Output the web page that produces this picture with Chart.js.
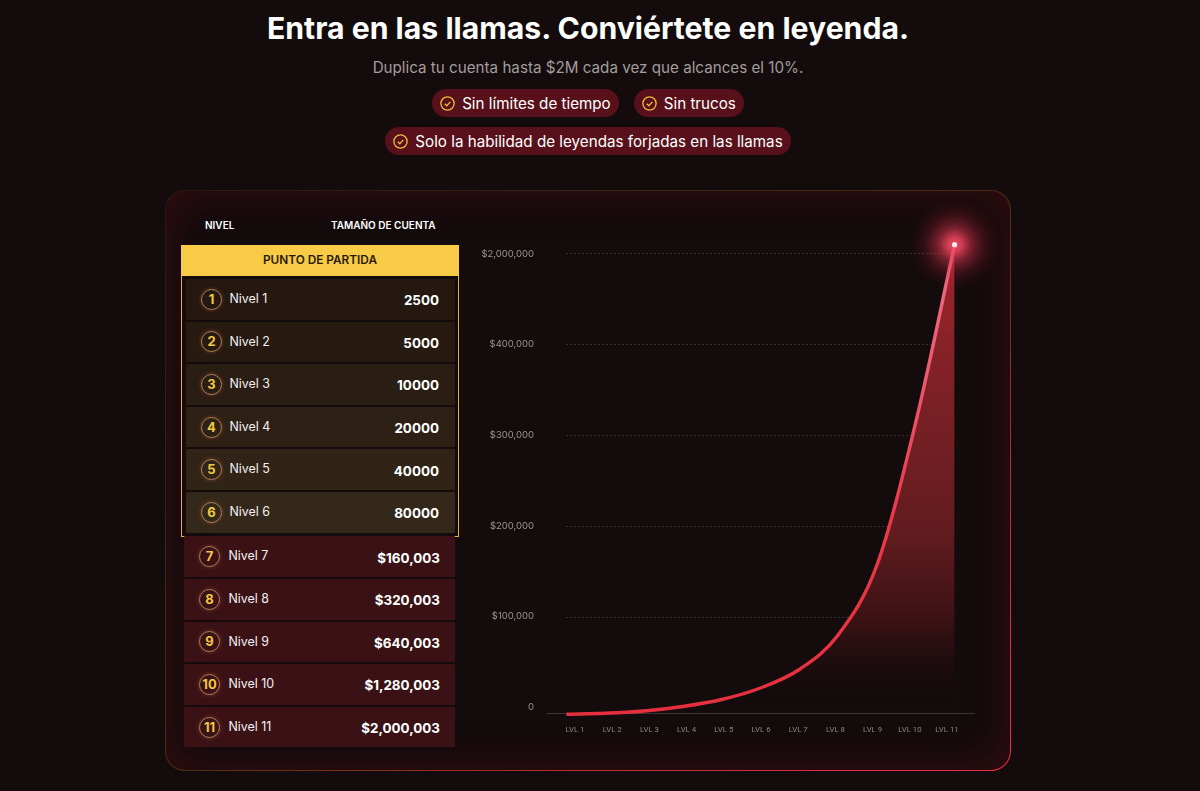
<!DOCTYPE html>
<html lang="es">
<head>
<meta charset="utf-8">
<title>Entra en las llamas</title>
<script src="https://cdn.jsdelivr.net/npm/chart.js@4"></script>
<style>
    html, body { margin: 0; height: 100%; background: #130b0c; overflow: hidden; }
    body { font-family: Inter, "Noto Sans", sans-serif; color: #fff; position: relative; width: 1200px; height: 791px; }
    h1, .sub, .pills { left: 0; width: 1176px; }
    h1 { position: absolute; top: 9px; margin: 0; text-align: center; font-size: 30.2px; line-height: 38px; font-weight: 700; }
    .sub { position: absolute; top: 58px; text-align: center; font-size: 15.2px; line-height: 20px; color: #a39d9d; }
    .pills { position: absolute; display: flex; justify-content: center; gap: 15px; }
    .pill { height: 28px; border-radius: 14px; background: #58101a; display: flex; align-items: center; padding: 0 8px; font-size: 15.2px; white-space: nowrap; }
    .pill svg { margin-right: 7px; }
    .panel { position: absolute; left: 165px; top: 190px; width: 844px; height: 579px; border: 1px solid transparent; border-radius: 20px;
        background: linear-gradient(#130b0c, #130b0c) padding-box, linear-gradient(to bottom right, #2a1810 0%, #4a3010 50%, #c02a30 75%, #f03040 100%) border-box; }
    .glow { position: absolute; inset: 0; border-radius: 19px; box-shadow: inset 0 0 45px rgba(120, 15, 28, .33); }
    .head { position: absolute; top: 218px; font-size: 10px; line-height: 14px; font-weight: 600; }
    .box { position: absolute; left: 181px; top: 245px; width: 276px; height: 290px; border: 1px solid #e0b040; }
    .band { position: absolute; left: 181px; top: 245px; width: 278px; height: 31px; background: #f7cb45; color: #2a1a05; text-align: center; font-size: 11.8px; font-weight: 600; line-height: 30px; }
    .row { position: absolute; height: 40.6px; border-radius: 1px; }
    .num { position: absolute; top: 50%; width: 19px; height: 19px; margin-top: -10.5px; border-radius: 50%; border: 1px solid #a8845c; box-shadow: 0 0 4px rgba(220, 90, 50, .45); color: #f2c840; font-weight: 700; font-size: 13px; line-height: 19px; text-align: center; }
    .name { position: absolute; top: 50%; margin-top: -9.4px; font-size: 12.4px; line-height: 18px; font-weight: 400; color: #f4f0f0; }
    .val { position: absolute; top: 50%; margin-top: -9px; font-size: 13.4px; line-height: 20px; font-weight: 700; }
    #wrap { position: absolute; left: 470px; top: 200px; width: 530px; height: 550px; }
</style>
</head>
<body>
<div class="panel"><div class="glow"></div></div>
<h1>Entra en las llamas. Conviértete en leyenda.</h1>
<div class="sub">Duplica tu cuenta hasta $2M cada vez que alcances el 10%.</div>
<div class="pills" id="pills1" style="top:89px"></div>
<div class="pills" id="pills2" style="top:127px"></div>
<div class="head" style="left:205px">NIVEL</div>
<div class="head" style="left:331px">TAMAÑO DE CUENTA</div>
<div class="box"></div>
<div class="band">PUNTO DE PARTIDA</div>
<div id="rows"></div>
<div id="wrap"><canvas id="canvas"></canvas></div>

<script>
const Chart = window.Chart;

const pillRow1 = ["Sin límites de tiempo", "Sin trucos"];
const pillRow2 = ["Solo la habilidad de leyendas forjadas en las llamas"];

const levelNames = ["Nivel 1", "Nivel 2", "Nivel 3", "Nivel 4", "Nivel 5", "Nivel 6", "Nivel 7", "Nivel 8", "Nivel 9", "Nivel 10", "Nivel 11"];
const accountSizes = ["2500", "5000", "10000", "20000", "40000", "80000", "$160,003", "$320,003", "$640,003", "$1,280,003", "$2,000,003"];
const rowColors = ["#241810", "#261a11", "#2a1d13", "#2d2015", "#302417", "#332819"];

const lvlLabels = ["LVL 1", "LVL 2", "LVL 3", "LVL 4", "LVL 5", "LVL 6", "LVL 7", "LVL 8", "LVL 9", "LVL 10", "LVL 11"];
const yTickLabels = ["0", "$100,000", "$200,000", "$300,000", "$400,000", "$2,000,000"];
const gridValues = [100000, 200000, 300000, 400000, 500000];
// en unidades del eje (la ultima marca esta en 500000)
const curveValues = [-6800, -5800, -3300, 1650, 9300, 22000, 42300, 80200, 157000, 313800, 508800];

const check = '<svg width="15" height="15" viewBox="0 0 15 15" fill="none" stroke="#eebc3f" stroke-width="1.3"><circle cx="7.5" cy="7.5" r="6.6"/><path d="M4.8 7.7l2 2 3.6-3.8"/></svg>';

function addPills(id, texts) {
    document.getElementById(id).innerHTML = texts.map(t => `<div class="pill">${check}${t}</div>`).join("");
}
addPills("pills1", pillRow1);
addPills("pills2", pillRow2);

const rows = document.getElementById("rows");
levelNames.forEach((name, i) => {
    const gold = i < 6;
    const top = gold ? 279 + i * 42.6 : 536.4 + (i - 6) * 42.6;
    const left = gold ? 185.5 : 184;
    const width = gold ? 269 : 271;
    const color = gold ? rowColors[i] : "#3a1216";
    rows.innerHTML += `<div class="row" style="left:${left}px;top:${top}px;width:${width}px;background:${color}">
        <div class="num" style="left:${gold ? 15.5 : 15}px">${i + 1}</div>
        <div class="name" style="left:${gold ? 44 : 44.5}px">${name}</div>
        <div class="val" style="right:${gold ? 15.5 : 15}px">${accountSizes[i]}</div>
    </div>`;
});

const canvas = document.getElementById("canvas");
canvas.width = 530;
canvas.height = 550;

// gridlines punteadas y brillo de la punta
const dottedGrid = {
    id: "dottedGrid",
    beforeDatasetsDraw(chart) {
        const {ctx, scales} = chart;
        const x0 = scales.xLine.getPixelForValue(0);
        const x1 = scales.xLine.getPixelForValue(lvlLabels.length - 1);
        ctx.save();
        ctx.strokeStyle = "rgba(255,255,255,0.2)";
        ctx.lineWidth = 1;
        ctx.setLineDash([1.5, 2.5]);
        gridValues.forEach(v => {
            const y = Math.round(scales.yLine.getPixelForValue(v)) + 0.5;
            ctx.beginPath();
            ctx.moveTo(x0, y);
            ctx.lineTo(x1, y);
            ctx.stroke();
        });
        ctx.restore();
    },
};

const tipGlow = {
    id: "tipGlow",
    afterDatasetsDraw(chart) {
        const {ctx} = chart;
        const pts = chart.getDatasetMeta(0).data;
        const p = pts[pts.length - 1];
        const g = ctx.createRadialGradient(p.x, p.y, 0, p.x, p.y, 48);
        g.addColorStop(0, "rgba(250,80,105,0.95)");
        g.addColorStop(0.15, "rgba(240,70,95,0.85)");
        g.addColorStop(0.35, "rgba(220,55,80,0.5)");
        g.addColorStop(0.6, "rgba(190,40,65,0.22)");
        g.addColorStop(0.8, "rgba(170,30,50,0.07)");
        g.addColorStop(1, "rgba(160,25,45,0)");
        ctx.save();
        ctx.fillStyle = g;
        ctx.beginPath();
        ctx.arc(p.x, p.y, 48, 0, Math.PI * 2);
        ctx.fill();
        ctx.fillStyle = "#ffe9ec";
        ctx.beginPath();
        ctx.arc(p.x, p.y, 2.6, 0, Math.PI * 2);
        ctx.fill();
        ctx.restore();
    },
};

function lineGradient(context) {
    const area = context.chart.chartArea;
    if (!area) return "#e8303f";
    const g = context.chart.ctx.createLinearGradient(0, area.bottom, 0, area.top);
    g.addColorStop(0, "#e62f3e");
    g.addColorStop(0.4, "#e93a4a");
    g.addColorStop(0.7, "#ee5a74");
    g.addColorStop(1, "#f2708a");
    return g;
}

function fillGradient(context) {
    const area = context.chart.chartArea;
    if (!area) return "transparent";
    const g = context.chart.ctx.createLinearGradient(0, area.top + 30, 0, area.bottom - 8);
    g.addColorStop(0, "rgb(165,36,44)");
    g.addColorStop(0.21, "rgb(134,34,40)");
    g.addColorStop(0.615, "rgb(98,28,31)");
    g.addColorStop(0.813, "rgb(60,18,21)");
    g.addColorStop(1, "rgba(25,11,13,0)");
    return g;
}

new Chart(canvas, {
    type: "line",
    data: {
        labels: lvlLabels,
        datasets: [{
            data: curveValues,
            xAxisID: "xLine",
            yAxisID: "yLine",
            borderColor: lineGradient,
            backgroundColor: fillGradient,
            borderWidth: 3.4,
            fill: "start",
            cubicInterpolationMode: "monotone",
            pointRadius: 0,
            clip: false,
        }],
    },
    options: {
        responsive: false,
        animation: false,
        devicePixelRatio: 1,
        layout: {padding: {top: 0, right: 26, left: 0, bottom: 0}},
        plugins: {legend: {display: false}, tooltip: {enabled: false}},
        scales: {
            xLine: {type: "category", offset: true, display: false},
            yLine: {type: "linear", min: -5495, max: 537362, display: false},
            // las etiquetas no caen bajo los puntos: eje aparte
            x: {
                type: "linear",
                position: "bottom",
                min: 0.247,
                max: 11.725,
                afterBuildTicks(axis) { axis.ticks = lvlLabels.map((_, i) => ({value: i + 1})); },
                afterFit(axis) { axis.height = 37; },
                grid: {display: false, drawTicks: false},
                border: {color: "#3b3537", width: 1},
                ticks: {
                    autoSkip: false,
                    maxRotation: 0,
                    padding: 12,
                    color: "#8a8585",
                    font: {family: "Roboto", size: 7.8},
                    callback: v => lvlLabels[v - 1],
                },
            },
            y: {
                type: "linear",
                position: "left",
                min: -0.0662,
                max: 5.386,
                afterBuildTicks(axis) { axis.ticks = yTickLabels.map((_, i) => ({value: i})); },
                afterFit(axis) { axis.width = 77; },
                grid: {display: false, drawTicks: false},
                border: {display: false},
                ticks: {
                    padding: 13,
                    color: "#9a9595",
                    font: {family: "Inter", size: 9.5},
                    callback: v => yTickLabels[v],
                },
            },
        },
    },
    plugins: [dottedGrid, tipGlow],
});
</script>
</body>
</html>
